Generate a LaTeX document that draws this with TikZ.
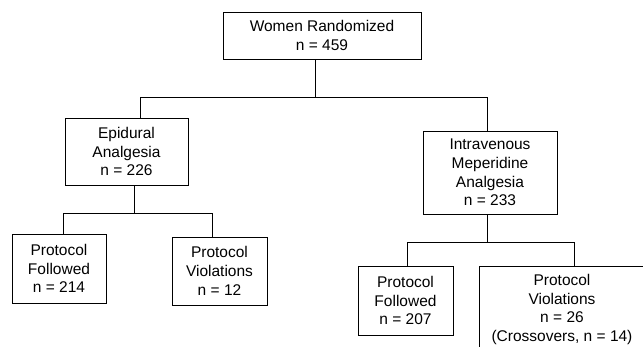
\documentclass[tikz,border=0pt]{standalone}
\usepackage{fontspec}
\setmainfont{Liberation Sans}

\begin{document}
\begin{tikzpicture}[x=1pt, y=-1pt, line width=0.9pt,
  box/.style={draw, align=center, inner sep=2pt,
    font=\fontsize{15.5}{18.7}\selectfont}]
  \useasboundingbox (0,0) rectangle (643,347);
  \clip (0,0) rectangle (643,347);

  % 第一层
  \node[box, minimum width=198pt, minimum height=47pt] (top) at (322,35.5)
    {Women Randomized\\n = 459};

  % 第二层：两组
  \node[box, minimum width=123pt, minimum height=67pt] (epi) at (126.5,151.5)
    {Epidural\\Analgesia\\n = 226};
  \node[box, minimum width=134pt, minimum height=83pt] (iv) at (490,172.5)
    {Intravenous\\Meperidine\\Analgesia\\n = 233};

  % 第三层
  \node[box, minimum width=94pt, minimum height=69pt] (epf) at (59,268.5)
    {Protocol\\Followed\\n = 214};
  \node[box, minimum width=95pt, minimum height=68pt] (epv) at (219.5,271)
    {Protocol\\Violations\\n = 12};
  \node[box, minimum width=95pt, minimum height=69pt] (ivf) at (405.5,300.5)
    {Protocol\\Followed\\n = 207};
  % 右下框超出画面
  \node[box, minimum width=166pt, minimum height=87pt] (ivv) at (562,309.5)
    {Protocol\\Violations\\n = 26\\(Crossovers, n = 14)};

  % 连线的横杆
  \coordinate (bar0L) at (140,97);
  \coordinate (bar0M) at (315,97);
  \coordinate (bar0R) at (487,97);
  \coordinate (bar1L) at (63,213);
  \coordinate (bar1M) at (134,213);
  \coordinate (bar1R) at (212,213);
  \coordinate (bar2L) at (407,242);
  \coordinate (bar2M) at (487,242);
  \coordinate (bar2R) at (574,242);

  \draw (top.south -| bar0M) -- (bar0M);
  \draw (epi.north -| bar0L) |- (bar0R) -- (iv.north -| bar0R);

  \draw (epi.south -| bar1M) -- (bar1M);
  \draw (epf.north -| bar1L) |- (bar1R) -- (epv.north -| bar1R);

  \draw (iv.south -| bar2M) -- (bar2M);
  \draw (ivf.north -| bar2L) |- (bar2R) -- (ivv.north -| bar2R);
\end{tikzpicture}
\end{document}
